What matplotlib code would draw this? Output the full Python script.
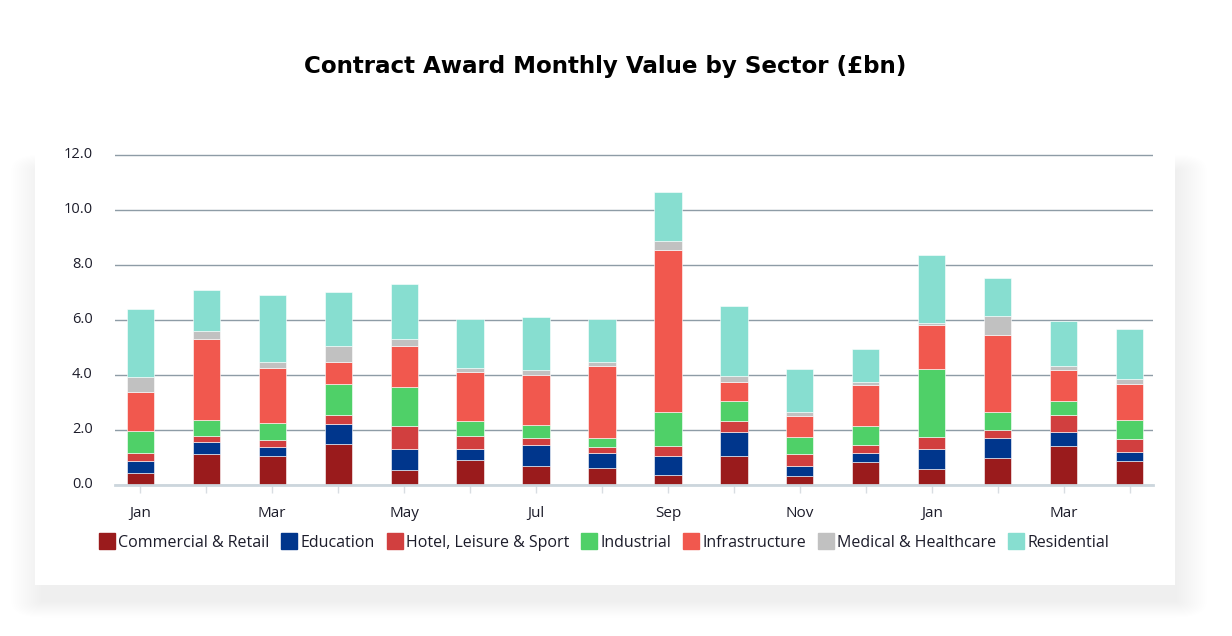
import numpy as np
import matplotlib.pyplot as plt
import matplotlib.transforms as mtransforms
from matplotlib.patches import FancyBboxPatch
from matplotlib.lines import Line2D

months = ["Jan", "Feb", "Mar", "Apr", "May", "Jun", "Jul", "Aug",
          "Sep", "Oct", "Nov", "Dec", "Jan", "Feb", "Mar", "Apr"]

commercial = [0.44, 1.11, 1.06, 1.49, 0.55, 0.91, 0.69, 0.62, 0.36, 1.07, 0.33, 0.84, 0.57, 0.97, 1.42, 0.86]
education = [0.42, 0.44, 0.32, 0.72, 0.76, 0.39, 0.77, 0.56, 0.70, 0.86, 0.35, 0.34, 0.75, 0.73, 0.49, 0.33]
hotel = [0.31, 0.22, 0.25, 0.32, 0.83, 0.47, 0.26, 0.20, 0.36, 0.40, 0.43, 0.27, 0.44, 0.30, 0.62, 0.47]
industrial = [0.81, 0.61, 0.63, 1.15, 1.44, 0.54, 0.48, 0.34, 1.23, 0.73, 0.64, 0.69, 2.45, 0.66, 0.51, 0.71]
infrastructure = [1.40, 2.92, 1.99, 0.79, 1.47, 1.80, 1.81, 2.60, 5.90, 0.67, 0.75, 1.48, 1.61, 2.78, 1.14, 1.31]
medical = [0.56, 0.30, 0.23, 0.58, 0.27, 0.15, 0.18, 0.16, 0.34, 0.25, 0.14, 0.11, 0.08, 0.72, 0.16, 0.16]
residential = [2.47, 1.48, 2.42, 1.96, 1.99, 1.79, 1.91, 1.57, 1.76, 2.52, 1.59, 1.21, 2.48, 1.38, 1.61, 1.84]

sectors = ["Commercial & Retail", "Education", "Hotel, Leisure & Sport", "Industrial",
           "Infrastructure", "Medical & Healthcare", "Residential"]
colors = ["#9a1b1c", "#00368c", "#d13f3f", "#4fd068", "#f1584e", "#c1c1c1", "#87ded0"]

plt.rcParams['font.family'] = ['Open Sans', 'DejaVu Sans']

W, H = 1232, 636
fig = plt.figure(figsize=(W / 100, H / 100), dpi=100)

# card with a soft shadow, mostly below the card
cx, cy, cw, ch = 35, 125, 1140, 460
for d in range(1, 17):
    fig.patches.append(FancyBboxPatch(((cx + 8) / W, 1 - (cy + ch + 16) / H),
                                      (cw - 8) / W, (ch - 30) / H,
                                      boxstyle="round,pad=%f" % (d * 2 / W),
                                      transform=fig.transFigure, fc="black", ec="none",
                                      alpha=0.0025, zorder=0))
fig.patches.append(FancyBboxPatch((cx / W, 1 - (cy + ch) / H), cw / W, ch / H,
                                  boxstyle="square,pad=0", transform=fig.transFigure,
                                  fc="white", ec="none", zorder=1))

ax = fig.add_axes([115 / W, 1 - 485 / H, 1038 / W, 331 / H])
ax.set_zorder(2)
ax.patch.set_alpha(0)

x = np.arange(len(months))
data = [commercial, education, hotel, industrial, infrastructure, medical, residential]
bottom = np.zeros(len(months))
for vals, c in zip(data, colors):
    ax.bar(x, vals, width=0.41, bottom=bottom, color=c, edgecolor="white",
           linewidth=0.4, zorder=3)
    bottom += np.array(vals)

ax.set_xlim(-0.38, 15.35)
ax.set_ylim(0, 12.04)
yt = np.arange(0, 12.1, 2)
ax.set_yticks(yt)
ax.set_yticklabels(["%.1f" % v for v in yt], fontsize=10.5, color="#1c1c2a")
ax.yaxis.grid(True, color="#8e9ca6", linewidth=1)
ax.set_axisbelow(True)
for s in ["top", "right", "left"]:
    ax.spines[s].set_visible(False)
ax.spines["bottom"].set_color("#ccd6dd")
ax.spines["bottom"].set_linewidth(2)
ax.spines["bottom"].set_zorder(4)
ax.tick_params(axis="y", length=0, pad=16)
shift = mtransforms.ScaledTranslation(0, 3 / 100, fig.dpi_scale_trans)
for lab in ax.get_yticklabels():
    lab.set_transform(lab.get_transform() + shift)

ax.set_xticks(x)
ax.set_xticklabels([m if i % 2 == 0 else "" for i, m in enumerate(months)],
                   fontsize=11, color="#1c1c2a")
ax.tick_params(axis="x", length=6, width=1, color="#d8dde2", pad=9)

fig.text(605 / W, 1 - 67 / H, "Contract Award Monthly Value by Sector (£bn)",
         ha="center", va="center", fontsize=16.6, fontweight="bold", color="black",
         family=["DejaVu Sans"])

handles = [Line2D([0], [0], marker="s", linestyle="", markersize=11,
                  markerfacecolor=c, markeredgecolor=c) for c in colors]
fig.legend(handles, sectors, loc="center", bbox_to_anchor=(604 / W, 1 - 543 / H),
           ncol=7, frameon=False, fontsize=11.5, handletextpad=0.2, columnspacing=0.75,
           handlelength=1.0, labelcolor="#1c1c2a")

plt.savefig("out.png", dpi=100)
